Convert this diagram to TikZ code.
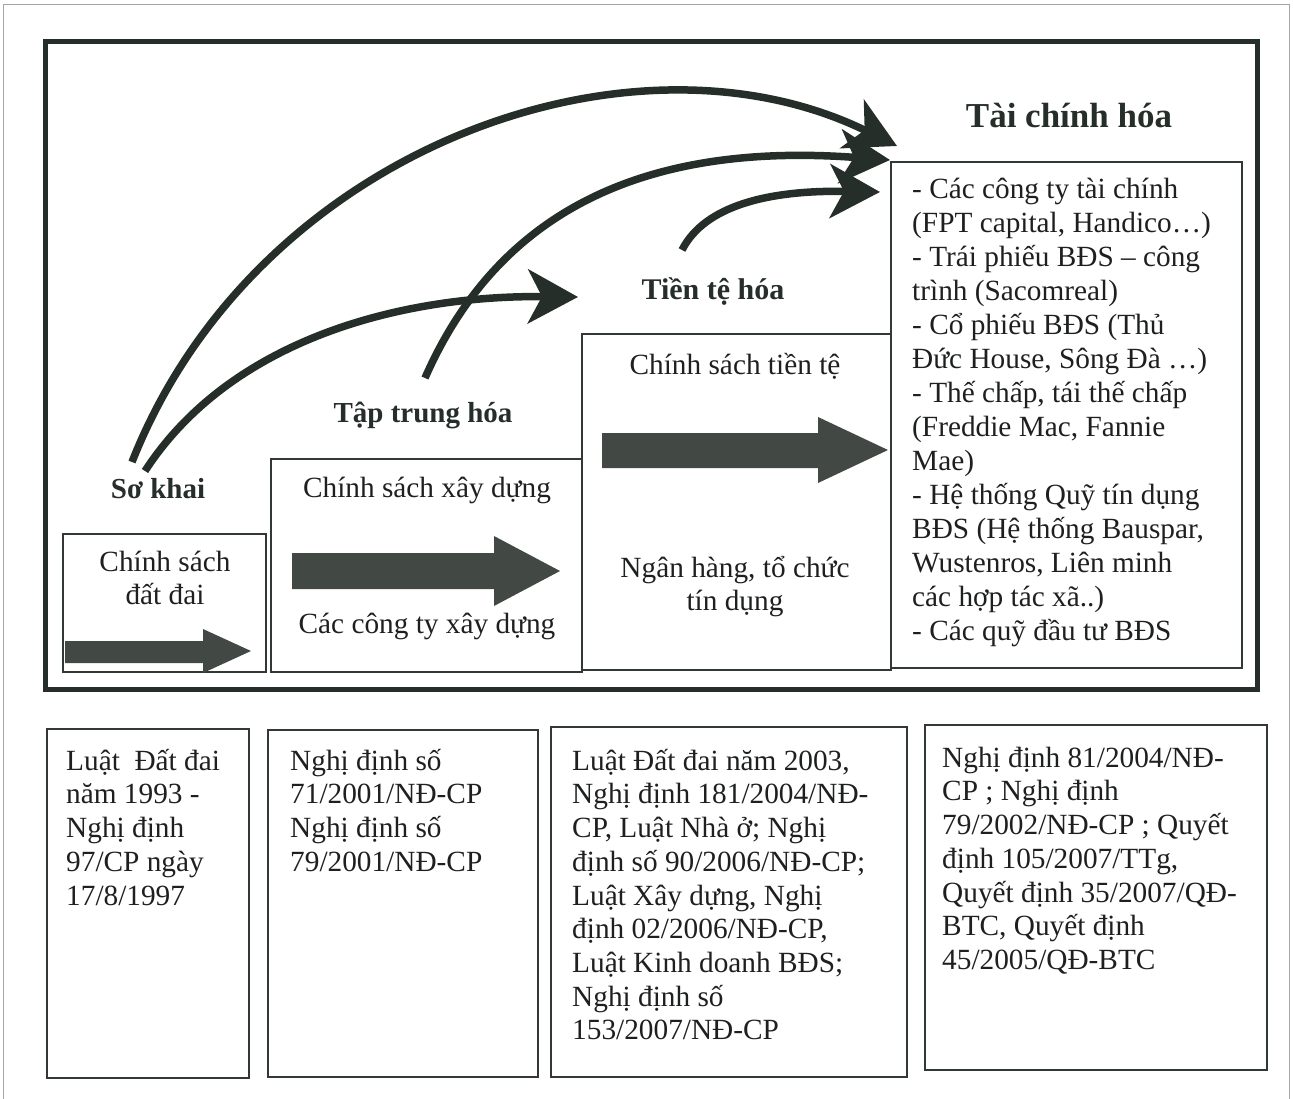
\documentclass[tikz,border=0pt]{standalone}
\usepackage{fontspec}
\setmainfont{Liberation Serif}
\usetikzlibrary{arrows.meta}
\definecolor{ink}{RGB}{38,46,42}
\definecolor{blockfill}{RGB}{66,72,68}
\definecolor{boxline}{RGB}{50,56,52}
\definecolor{txt}{RGB}{30,32,31}
\newcommand\tstr{\rule{0pt}{28pt}}
\begin{document}
\begin{tikzpicture}[x=1pt,y=-1pt,
  box/.style={draw=boxline, line width=1.6pt, inner sep=0pt, outer sep=0pt, anchor=north west},
  body/.style={font=\fontsize{29.3}{33.7}\selectfont, text=txt, inner sep=0pt},
  bodyL/.style={body, align=left, anchor=north west},
  bodyC/.style={body, align=center, anchor=north},
  lbl/.style={font=\fontsize{29}{34}\selectfont\bfseries, text=ink, inner sep=0pt, anchor=base},
  curve/.style={draw=ink, line width=7.5pt, -{Stealth[length=50pt,width=54pt,inset=14pt]}},
  blk/.style={fill=blockfill}
]
\useasboundingbox (0,0) rectangle (1293,1099);
\fill[white] (0,0) rectangle (1293,1099);
% page border
\draw[gray!70, line width=1pt] (3,1099) -- (3,5) -- (1289,5) -- (1289,1099);
% thick frame
\draw[ink, line width=5pt] (45,42) rectangle (1257,689);

% upper boxes
\node[box, minimum width=203pt, minimum height=138pt] (boxA) at (63,534) {};
\node[box, minimum width=311pt, minimum height=213pt] (boxB) at (271,459) {};
\node[box, minimum width=309pt, minimum height=336pt] (boxC) at (582,334) {};
\node[box, minimum width=351pt, minimum height=506pt] (boxD) at (891,162) {};

% lower boxes
\node[box, minimum width=202pt, minimum height=349pt] (bot1) at (47,729) {};
\node[box, minimum width=270pt, minimum height=347pt] (bot2) at (268,730) {};
\node[box, minimum width=356pt, minimum height=350pt] (bot3) at (551,727) {};
\node[box, minimum width=342pt, minimum height=345pt] (bot4) at (925,725) {};

% stage labels
\node[lbl, font=\fontsize{35}{41}\selectfont\bfseries] (taichinh) at (1069,128) {Tài chính hóa};
\node[lbl, font=\fontsize{30}{35}\selectfont\bfseries] (tiente) at (713,300) {Tiền tệ hóa};
\node[lbl] (taptrung) at (423,422) {Tập trung hóa};
\node[lbl] (sokhai) at (158,498) {Sơ khai};

% box texts
\node[bodyC] (tA) at (165,543) {\tstr Chính sách\\đất đai};
\node[body, anchor=base] (tB1) at (427,497) {Chính sách xây dựng};
\node[body, anchor=base] (tB2) at (427,633) {Các công ty xây dựng};
\node[body, anchor=base] (tC1) at (735,374) {Chính sách tiền tệ};
\node[bodyC] (tC2) at (735,549) {\tstr Ngân hàng, tổ chức\\tín dụng};
\node[bodyL, font=\fontsize{29.3}{34}\selectfont] (tD) at (912,170) {\tstr - Các công ty tài chính\\
(FPT capital, Handico…)\\
- Trái phiếu BĐS – công\\
trình (Sacomreal)\\
- Cổ phiếu BĐS (Thủ\\
Đức House, Sông Đà …)\\
- Thế chấp, tái thế chấp\\
(Freddie Mac, Fannie\\
Mae)\\
- Hệ thống Quỹ tín dụng\\
BĐS (Hệ thống Bauspar,\\
Wustenros, Liên minh\\
các hợp tác xã..)\\
- Các quỹ đầu tư BĐS};

\node[bodyL] (t1) at (66,742) {\tstr Luật\ \ Đất đai\\năm 1993 -\\Nghị định\\97/CP ngày\\17/8/1997};
\node[bodyL] (t2) at (290,742) {\tstr Nghị định số\\71/2001/NĐ-CP\\Nghị định số\\79/2001/NĐ-CP};
\node[bodyL] (t3) at (572,742) {\tstr Luật Đất đai năm 2003,\\Nghị định 181/2004/NĐ-\\CP, Luật Nhà ở; Nghị\\định số 90/2006/NĐ-CP;\\Luật Xây dựng, Nghị\\định 02/2006/NĐ-CP,\\Luật Kinh doanh BĐS;\\Nghị định số\\153/2007/NĐ-CP};
\node[bodyL] (t4) at (942,739) {\tstr Nghị định 81/2004/NĐ-\\CP ; Nghị định\\79/2002/NĐ-CP ; Quyết\\định 105/2007/TTg,\\Quyết định 35/2007/QĐ-\\BTC, Quyết định\\45/2005/QĐ-BTC};

% block arrows
\fill[blk] (65,641) -- (203,641) -- (203,629) -- (251,651) -- (203,673) -- (203,663) -- (65,663) -- cycle;
\fill[blk] (292,553) -- (494,553) -- (494,536) -- (560,571) -- (494,606) -- (494,589) -- (292,589) -- cycle;
\fill[blk] (602,433) -- (818,433) -- (818,417) -- (888,450) -- (818,483) -- (818,468) -- (602,468) -- cycle;

% curve end points
\coordinate (s1) at (132,462);
\coordinate (s2) at (145,471);
\coordinate (s3) at (425,378);
\coordinate (s4) at (682,250);
\coordinate (e1) at (897,146);
\coordinate (e2) at (578,297);
\coordinate (e3) at (890,160);
\coordinate (e4) at (880,192);

% curved arrows
\draw[curve] (s2) .. controls (230,340) and (400,295) .. (e2);
\draw[curve] (s3) .. controls (490,230) and (620,140) .. (e3);
\draw[curve] (s4) .. controls (705,205) and (770,190) .. (e4);
\draw[curve] (s1) .. controls (255,150) and (630,15) .. (e1);
\end{tikzpicture}
\end{document}
